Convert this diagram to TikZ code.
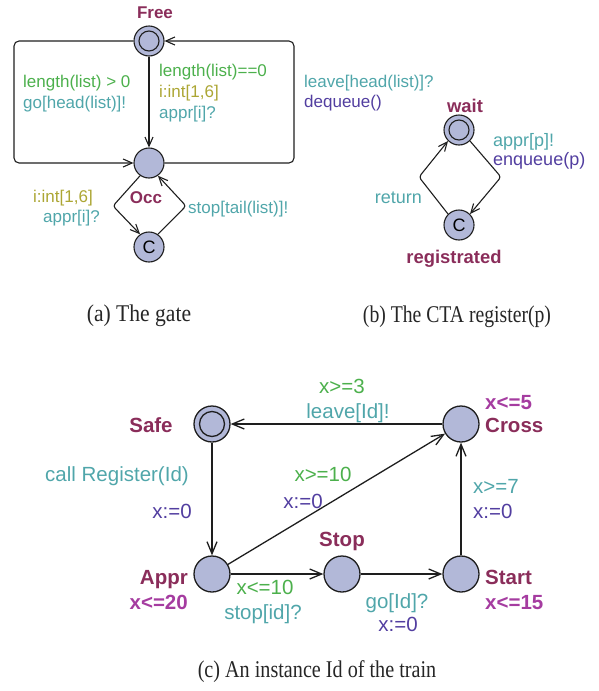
\documentclass[tikz,border=0pt]{standalone}
\usepackage{fontspec}
\usepackage{graphicx}
\usetikzlibrary{arrows.meta}
\newfontfamily\labf{Liberation Sans}
\newfontfamily\capf{Liberation Serif}
\definecolor{nodefill}{RGB}{178,184,216}
\definecolor{grn}{RGB}{76,176,76}
\definecolor{tealc}{RGB}{80,166,170}
\definecolor{olive}{RGB}{172,166,52}
\definecolor{upd}{RGB}{82,62,160}
\definecolor{locname}{RGB}{138,45,90}
\definecolor{inv}{RGB}{165,60,160}
\definecolor{edgec}{RGB}{30,30,30}
\begin{document}
\begin{tikzpicture}[x=1pt,y=-1pt,
  gloc/.style={circle, draw=edgec, fill=nodefill, line width=1.1pt, minimum size=30pt, inner sep=0pt},
  tloc/.style={circle, draw=edgec, fill=nodefill, line width=1.3pt, minimum size=36pt, inner sep=0pt},
  gtxt/.style={font=\labf\fontsize{17}{20}\selectfont, inner sep=0pt, text height=12.5pt, text depth=3.5pt},
  rtxt/.style={font=\labf\fontsize{18}{21}\selectfont, inner sep=0pt, text height=13pt, text depth=3.8pt},
  ttxt/.style={font=\labf\fontsize{20.5}{24}\selectfont, inner sep=0pt, text height=15pt, text depth=4.2pt},
  gname/.style={font=\labf\bfseries\fontsize{17}{20}\selectfont, text=locname, inner sep=0pt, text height=12.5pt, text depth=0pt},
  rname/.style={font=\labf\bfseries\fontsize{18.4}{21}\selectfont, text=locname, inner sep=0pt, text height=13.5pt, text depth=0pt},
  tname/.style={font=\labf\bfseries\fontsize{20.5}{24}\selectfont, text=locname, inner sep=0pt, text height=15pt, text depth=0pt},
  tinv/.style={font=\labf\bfseries\fontsize{20.5}{24}\selectfont, text=inv, inner sep=0pt, text height=15pt, text depth=0pt},
  garr/.style={draw=edgec, line width=1.1pt, -{Straight Barb[length=9pt,width=8pt]}},
  tarr/.style={draw=edgec, line width=1.3pt, -{Straight Barb[length=12pt,width=10pt]}},
  captxt/.style={inner sep=0pt, font=\capf\fontsize{24}{28}\selectfont, text=black!85}
]
\useasboundingbox (0,0) rectangle (598,691);

% ---------------- (a) gate ----------------
\node[gloc] (free) at (149,41) {};
\draw[edgec, line width=1.1pt] (free.center) circle (10pt);
\node[gloc] (occ) at (149,163) {};
\node[gloc, font=\labf\fontsize{18}{20}\selectfont] (cg) at (149,247) {C};
\node[gname] (freelab) at (155,12) {Free};
\node[gname] (occlab) at (146,197) {Occ};

\coordinate (gl) at (14,163);
\coordinate (gr) at (294,41);
\coordinate (gdl) at (113,206);
\coordinate (gdr) at (186,206);

\draw[garr] (free) -- (occ);
\draw[garr, rounded corners=5pt] (free.west) -| (gl) -- (occ.west);
\draw[garr, rounded corners=5pt] (occ.east) -| (gr) -- (free.east);
\draw[garr, rounded corners=3pt] (occ.-125) -- (gdl) -- (cg.125);
\draw[garr, rounded corners=3pt] (cg.55) -- (gdr) -- (occ.-55);

\node[gtxt, text=grn, anchor=west] (lg1) at (23,83) {length(list) > 0};
\node[gtxt, text=tealc, anchor=west] (lg2) at (23,104) {go[head(list)]!};
\node[gtxt, text=grn, anchor=west] (lz1) at (159,72) {length(list)==0};
\node[gtxt, text=olive, anchor=west] (lz2) at (159,93) {i:int[1,6]};
\node[gtxt, text=tealc, anchor=west] (lz3) at (159,114) {appr[i]?};
\node[gtxt, text=tealc, anchor=west] (ll1) at (304,83) {leave[head(list)]?};
\node[gtxt, text=upd, anchor=west] (ll2) at (304,103) {dequeue()};
\node[gtxt, text=olive, anchor=west] (li1) at (33,198) {i:int[1,6]};
\node[gtxt, text=tealc, anchor=west] (li2) at (43,218) {appr[i]?};
\node[gtxt, text=tealc, anchor=west] (ls) at (188,209) {stop[tail(list)]!};

% ---------------- (b) register ----------------
\node[gloc] (wait) at (459,130) {};
\draw[edgec, line width=1.1pt] (wait.center) circle (10pt);
\node[gloc, font=\labf\fontsize{18}{20}\selectfont] (reg) at (459,225) {C};
\node[rname] (waitlab) at (465,106) {wait};
\node[rname] (reglab) at (454,257) {registrated};

\coordinate (rdr) at (501,177);
\coordinate (rdl) at (419,177);
\draw[garr, rounded corners=3pt] (wait.-45) -- (rdr) -- (reg.45);
\draw[garr, rounded corners=3pt] (reg.135) -- (rdl) -- (wait.-135);

\node[rtxt, text=tealc, anchor=west] (ra1) at (493,142) {appr[p]!};
\node[rtxt, text=upd, anchor=west] (ra2) at (493,161) {enqueue(p)};
\node[rtxt, text=tealc, anchor=east] (rret) at (422,199) {return};

% ---------------- captions a, b ----------------
\node[captxt] (capa) at (139,316) {\scalebox{0.9}[1]{(a) The gate}};
\node[captxt] (capb) at (457,317) {\scalebox{0.82}[1]{(b) The CTA register(p)}};

% ---------------- (c) train ----------------
\node[tloc] (safe) at (212,424) {};
\draw[edgec, line width=1.3pt] (safe.center) circle (12.5pt);
\node[tloc] (cross) at (461,424) {};
\node[tloc] (appr) at (212,574) {};
\node[tloc] (stop) at (342,574) {};
\node[tloc] (start) at (461,574) {};

\node[tname] (safelab) at (151,425) {Safe};
\node[tinv, anchor=west] (crossinv) at (485,402) {x<=5};
\node[tname, anchor=west] (crosslab) at (485,425) {Cross};
\node[tname] (stoplab) at (342,539) {Stop};
\node[tname, anchor=east] (apprlab) at (188,577) {Appr};
\node[tinv, anchor=east] (apprinv) at (188,602) {x<=20};
\node[tname, anchor=west] (startlab) at (485,577) {Start};
\node[tinv, anchor=west] (startinv) at (485,602) {x<=15};

\draw[tarr] (cross) -- (safe);
\draw[tarr] (safe) -- (appr);
\draw[tarr] (appr) -- (cross);
\draw[tarr] (appr) -- (stop);
\draw[tarr] (stop) -- (start);
\draw[tarr] (start) -- (cross);

\node[ttxt, text=grn] (t1) at (342,388) {x>=3};
\node[ttxt, text=tealc] (t2) at (348,413) {leave[Id]!};
\node[ttxt, text=tealc] (t3) at (117,476) {call Register(Id)};
\node[ttxt, text=upd] (t4) at (172,513) {x:=0};
\node[ttxt, text=grn] (t5) at (323,476) {x>=10};
\node[ttxt, text=upd] (t6) at (303,503) {x:=0};
\node[ttxt, text=tealc, anchor=west] (t7) at (473,488) {x>=7};
\node[ttxt, text=upd, anchor=west] (t8) at (473,513) {x:=0};
\node[ttxt, text=grn] (t9) at (265,589) {x<=10};
\node[ttxt, text=tealc] (t10) at (263,614) {stop[id]?};
\node[ttxt, text=tealc] (t11) at (397,603) {go[Id]?};
\node[ttxt, text=upd] (t12) at (398,626) {x:=0};

\node[captxt] (capc) at (317,672) {\scalebox{0.84}[1]{(c) An instance Id of the train}};
\end{tikzpicture}
\end{document}
